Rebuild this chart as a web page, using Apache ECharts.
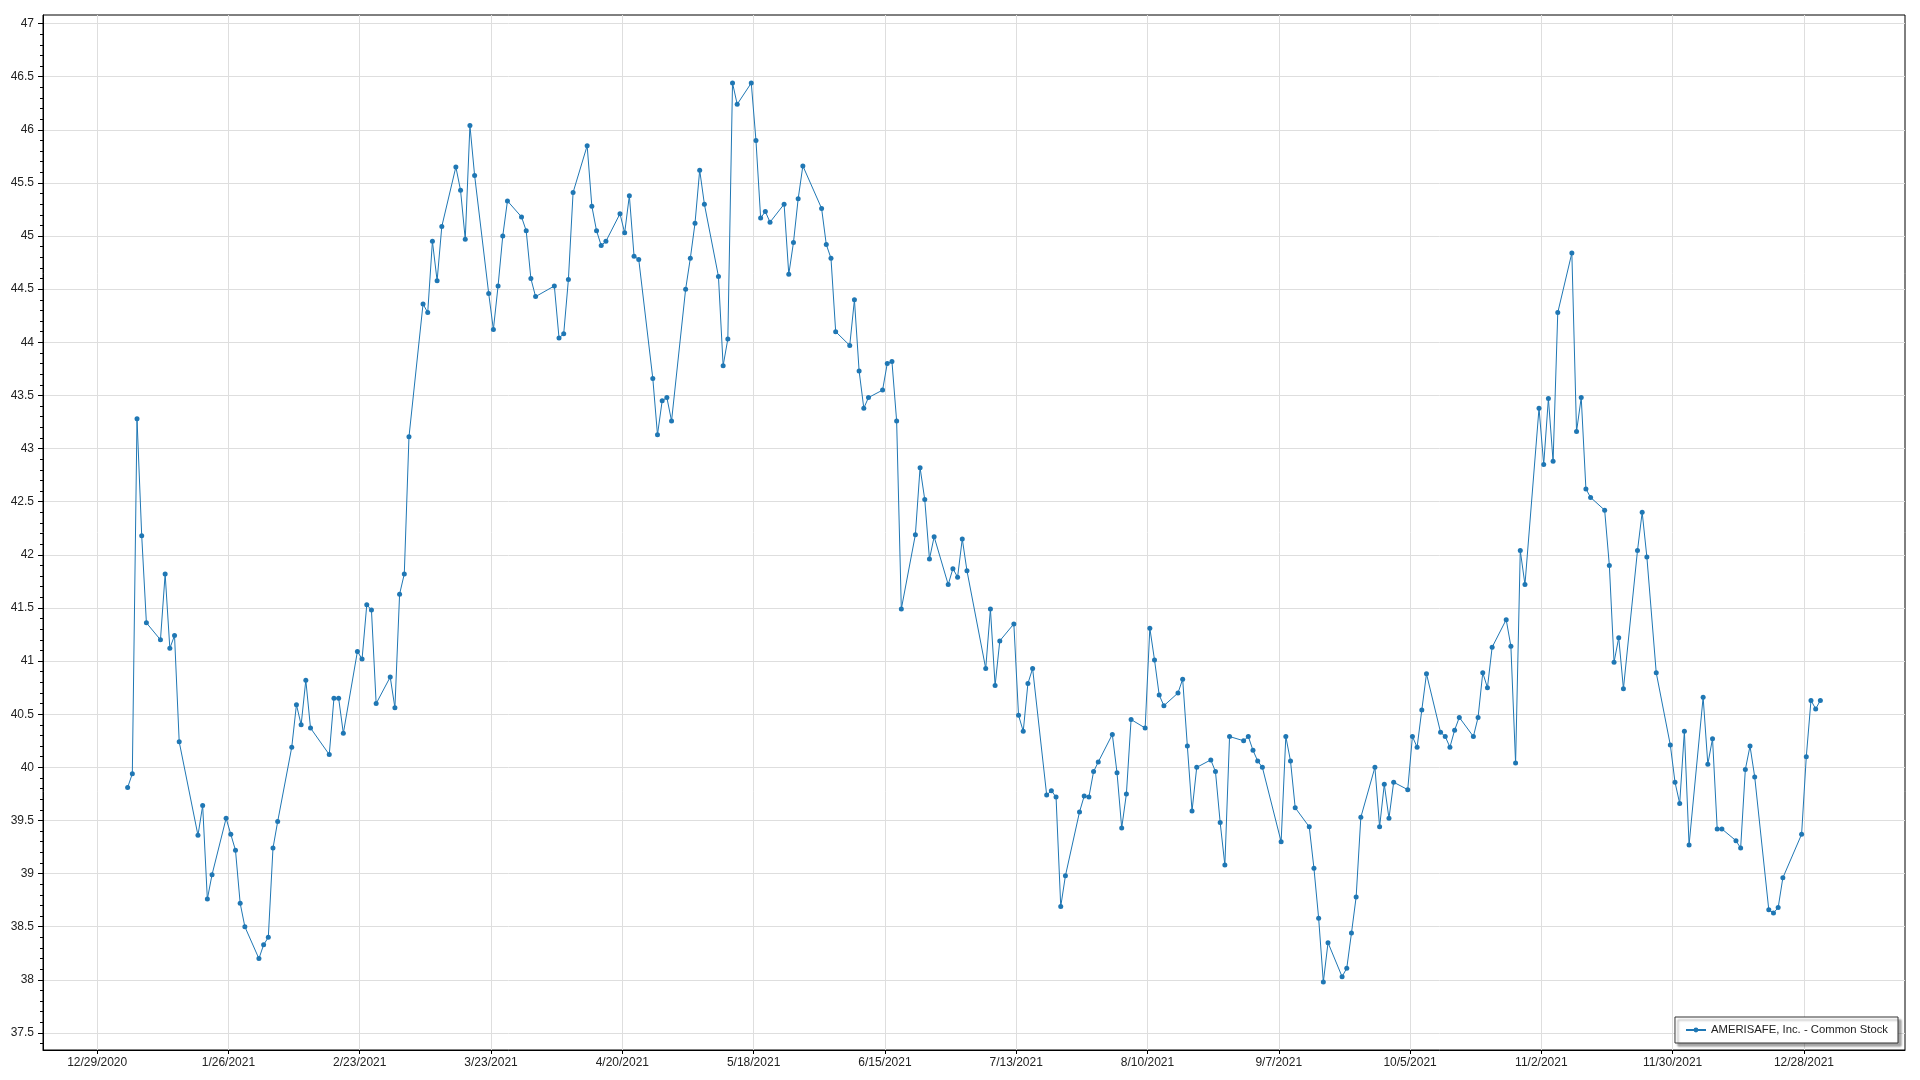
<!DOCTYPE html>
<html><head><meta charset="utf-8">
<script src="https://cdn.jsdelivr.net/npm/echarts@6/dist/echarts.min.js"></script>
<style>html,body{margin:0;padding:0;background:#fff}#c{width:1920px;height:1080px}</style>
</head><body><div id="c"></div>
<script>
const seriesName = 'AMERISAFE, Inc. - Common Stock';

const dates = [
'2021-01-04','2021-01-05','2021-01-06','2021-01-07','2021-01-08','2021-01-11','2021-01-12','2021-01-13','2021-01-14','2021-01-15','2021-01-19','2021-01-20','2021-01-21','2021-01-22','2021-01-25','2021-01-26','2021-01-27','2021-01-28','2021-01-29',
'2021-02-01','2021-02-02','2021-02-03','2021-02-04','2021-02-05','2021-02-08','2021-02-09','2021-02-10','2021-02-11','2021-02-12','2021-02-16','2021-02-17','2021-02-18','2021-02-19','2021-02-22','2021-02-23','2021-02-24','2021-02-25','2021-02-26',
'2021-03-01','2021-03-02','2021-03-03','2021-03-04','2021-03-05','2021-03-08','2021-03-09','2021-03-10','2021-03-11','2021-03-12','2021-03-15','2021-03-16','2021-03-17','2021-03-18','2021-03-19','2021-03-22','2021-03-23','2021-03-24','2021-03-25','2021-03-26','2021-03-29','2021-03-30','2021-03-31',
'2021-04-01','2021-04-05','2021-04-06','2021-04-07','2021-04-08','2021-04-09','2021-04-12','2021-04-13','2021-04-14','2021-04-15','2021-04-16','2021-04-19','2021-04-20','2021-04-21','2021-04-22','2021-04-23','2021-04-26','2021-04-27','2021-04-28','2021-04-29','2021-04-30',
'2021-05-03','2021-05-04','2021-05-05','2021-05-06','2021-05-07','2021-05-10','2021-05-11','2021-05-12','2021-05-13','2021-05-14','2021-05-17','2021-05-18','2021-05-19','2021-05-20','2021-05-21','2021-05-24','2021-05-25','2021-05-26','2021-05-27','2021-05-28',
'2021-06-01','2021-06-02','2021-06-03','2021-06-04','2021-06-07','2021-06-08','2021-06-09','2021-06-10','2021-06-11','2021-06-14','2021-06-15','2021-06-16','2021-06-17','2021-06-18','2021-06-21','2021-06-22','2021-06-23','2021-06-24','2021-06-25','2021-06-28','2021-06-29','2021-06-30',
'2021-07-01','2021-07-02','2021-07-06','2021-07-07','2021-07-08','2021-07-09','2021-07-12','2021-07-13','2021-07-14','2021-07-15','2021-07-16','2021-07-19','2021-07-20','2021-07-21','2021-07-22','2021-07-23','2021-07-26','2021-07-27','2021-07-28','2021-07-29','2021-07-30',
'2021-08-02','2021-08-03','2021-08-04','2021-08-05','2021-08-06','2021-08-09','2021-08-10','2021-08-11','2021-08-12','2021-08-13','2021-08-16','2021-08-17','2021-08-18','2021-08-19','2021-08-20','2021-08-23','2021-08-24','2021-08-25','2021-08-26','2021-08-27','2021-08-30','2021-08-31',
'2021-09-01','2021-09-02','2021-09-03','2021-09-07','2021-09-08','2021-09-09','2021-09-10','2021-09-13','2021-09-14','2021-09-15','2021-09-16','2021-09-17','2021-09-20','2021-09-21','2021-09-22','2021-09-23','2021-09-24','2021-09-27','2021-09-28','2021-09-29','2021-09-30',
'2021-10-01','2021-10-04','2021-10-05','2021-10-06','2021-10-07','2021-10-08','2021-10-11','2021-10-12','2021-10-13','2021-10-14','2021-10-15','2021-10-18','2021-10-19','2021-10-20','2021-10-21','2021-10-22','2021-10-25','2021-10-26','2021-10-27','2021-10-28','2021-10-29',
'2021-11-01','2021-11-02','2021-11-03','2021-11-04','2021-11-05','2021-11-08','2021-11-09','2021-11-10','2021-11-11','2021-11-12','2021-11-15','2021-11-16','2021-11-17','2021-11-18','2021-11-19','2021-11-22','2021-11-23','2021-11-24','2021-11-26','2021-11-29','2021-11-30',
'2021-12-01','2021-12-02','2021-12-03','2021-12-06','2021-12-07','2021-12-08','2021-12-09','2021-12-10','2021-12-13','2021-12-14','2021-12-15','2021-12-16','2021-12-17','2021-12-20','2021-12-21','2021-12-22','2021-12-23','2021-12-27','2021-12-28','2021-12-29','2021-12-30','2021-12-31'
];

const prices = [
39.81,39.94,43.28,42.18,41.36,41.20,41.82,41.12,41.24,40.24,39.36,39.64,38.76,38.99,39.52,39.37,39.22,38.72,38.50,
38.20,38.33,38.40,39.24,39.49,40.19,40.59,40.40,40.82,40.37,40.12,40.65,40.65,40.32,41.09,41.02,41.53,41.48,40.60,
40.85,40.56,41.63,41.82,43.11,44.36,44.28,44.95,44.58,45.09,45.65,45.43,44.97,46.04,45.57,44.46,44.12,44.53,45.00,45.33,45.18,45.05,44.60,
44.43,44.53,44.04,44.08,44.59,45.41,45.85,45.28,45.05,44.91,44.95,45.21,45.03,45.38,44.81,44.78,43.66,43.13,43.45,43.48,43.26,
44.50,44.79,45.12,45.62,45.30,44.62,43.78,44.03,46.44,46.24,46.44,45.90,45.17,45.23,45.13,45.30,44.64,44.94,45.35,45.66,
45.26,44.92,44.79,44.10,43.97,44.40,43.73,43.38,43.48,43.55,43.80,43.82,43.26,41.49,42.19,42.82,42.52,41.96,42.17,41.72,41.87,41.79,
42.15,41.85,40.93,41.49,40.77,41.19,41.35,40.49,40.34,40.79,40.93,39.74,39.78,39.72,38.69,38.98,39.58,39.73,39.72,39.96,40.05,
40.31,39.95,39.43,39.75,40.45,40.37,41.31,41.01,40.68,40.58,40.70,40.83,40.20,39.59,40.00,40.07,39.96,39.48,39.08,40.29,40.25,40.29,
40.16,40.06,40.00,39.30,40.29,40.06,39.62,39.44,39.05,38.58,37.98,38.35,38.03,38.11,38.44,38.78,39.53,40.00,39.44,39.84,39.52,
39.86,39.79,40.29,40.19,40.54,40.88,40.33,40.29,40.19,40.35,40.47,40.29,40.47,40.89,40.75,41.13,41.39,41.14,40.04,42.04,41.72,
43.38,42.85,43.47,42.88,44.28,44.84,43.16,43.48,42.62,42.54,42.42,41.90,40.99,41.22,40.74,42.04,42.40,41.98,40.89,40.21,39.86,
39.66,40.34,39.27,40.66,40.03,40.27,39.42,39.42,39.31,39.24,39.98,40.20,39.91,38.66,38.63,38.68,38.96,39.37,40.10,40.63,40.55,40.63
];

const xTickLabels = ['12/29/2020','1/26/2021','2/23/2021','3/23/2021','4/20/2021','5/18/2021','6/15/2021','7/13/2021','8/10/2021','9/7/2021','10/5/2021','11/2/2021','11/30/2021','12/28/2021'];
const yTickValues = [37.5,38,38.5,39,39.5,40,40.5,41,41.5,42,42.5,43,43.5,44,44.5,45,45.5,46,46.5,47];

const DAY = 86400000;
const BASE = Date.UTC(2020, 11, 29);
function isoToDay(s) { const p = s.split('-').map(Number); return (Date.UTC(p[0], p[1]-1, p[2]) - BASE) / DAY; }
function mdyToDay(s) { const p = s.split('/').map(Number); return (Date.UTC(p[2], p[0]-1, p[1]) - BASE) / DAY; }

const xTickDays = xTickLabels.map(mdyToDay);
const labelByDay = {};
xTickDays.forEach((d, i) => { labelByDay[d] = xTickLabels[i]; });

// points are stamped at midday
const seriesData = dates.map((s, i) => [isoToDay(s) + 0.5, prices[i]]);

const minorVals = [];
for (let k = 374; k <= 470; k++) { if (k % 5 !== 0) minorVals.push(k / 10); }

const FONT = 'Liberation Sans';
const chart = echarts.init(document.getElementById('c'), null, {renderer: 'canvas'});
chart.setOption({
  animation: false,
  backgroundColor: '#ffffff',
  grid: { left: 43, right: 15, top: 15, bottom: 30, show: true, borderColor: '#000', borderWidth: 1, backgroundColor: 'transparent' },
  xAxis: {
    type: 'value', min: -11.55, max: 385.55, position: 'bottom',
    axisLine: { show: true, onZero: false, lineStyle: { color: '#000', width: 1 } },
    axisTick: { show: true, customValues: xTickDays, length: 4, lineStyle: { color: '#000' } },
    axisLabel: { show: true, customValues: xTickDays, formatter: v => labelByDay[v] || '', color: '#222', fontSize: 12, fontFamily: FONT, margin: 7 },
    splitLine: { show: true, lineStyle: { color: '#dedede', width: 1 } }
  },
  yAxis: [{
    type: 'value', min: 37.34, max: 47.08, position: 'left',
    axisLine: { show: true, onZero: false, lineStyle: { color: '#000', width: 1 } },
    axisTick: { show: true, customValues: yTickValues, length: 5, lineStyle: { color: '#000' } },
    axisLabel: { show: true, customValues: yTickValues, formatter: v => String(v), color: '#222', fontSize: 12, fontFamily: FONT, margin: 9 },
    splitLine: { show: true, lineStyle: { color: '#dedede', width: 1 } }
  }, {
    type: 'value', min: 37.34, max: 47.08, position: 'left', offset: 0,
    axisLine: { show: false, onZero: false },
    axisTick: { show: true, customValues: minorVals, length: 3, lineStyle: { color: '#000' } },
    axisLabel: { show: false },
    splitLine: { show: false }
  }],
  legend: {
    show: true, data: [seriesName], right: 22, bottom: 37,
    itemWidth: 20, itemHeight: 6, padding: [6, 10],
    backgroundColor: '#fff', borderColor: '#333', borderWidth: 1,
    shadowColor: 'rgba(0,0,0,0.35)', shadowOffsetX: 3, shadowOffsetY: 3, shadowBlur: 2,
    textStyle: { color: '#222', fontSize: 11.3, fontFamily: FONT, lineHeight: 14 }
  },
  series: [{
    name: seriesName, type: 'line', xAxisIndex: 0, yAxisIndex: 0,
    data: seriesData,
    symbol: 'circle', symbolSize: 5, showSymbol: true,
    lineStyle: { color: '#1f77b4', width: 1 },
    itemStyle: { color: '#1f77b4', borderWidth: 0 },
    emphasis: { disabled: true }
  }]
});
</script></body></html>
